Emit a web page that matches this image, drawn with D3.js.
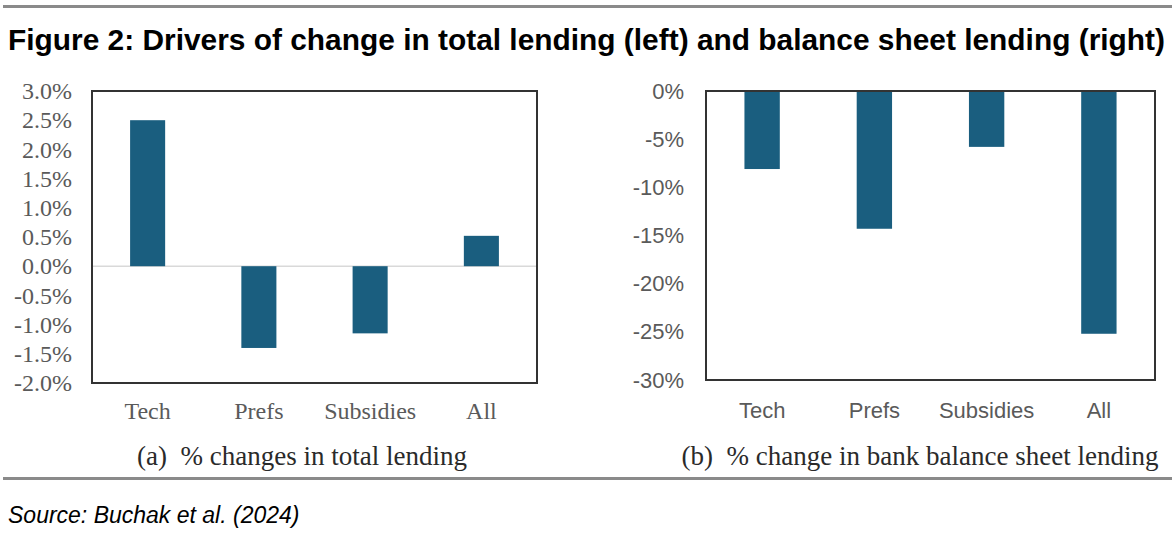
<!DOCTYPE html>
<html><head><meta charset="utf-8">
<script src="https://cdn.jsdelivr.net/npm/d3@7"></script>
<style>body{margin:0;background:#fff}svg{display:block}</style>
</head><body>
<script>
const categories = ["Tech", "Prefs", "Subsidies", "All"];
const totalLending = [2.5, -1.4, -1.15, 0.52];            // % (left)
const balanceSheetLending = [-8.1, -14.3, -5.8, -25.2];   // % (right)
const leftTicks = [3.0, 2.5, 2.0, 1.5, 1.0, 0.5, 0.0, -0.5, -1.0, -1.5, -2.0];
const rightTicks = [0, -5, -10, -15, -20, -25, -30];
const title = "Figure 2: Drivers of change in total lending (left) and balance sheet lending (right)";
const subA = "(a)  % changes in total lending";
const subB = "(b)  % change in bank balance sheet lending";
const source = "Source: Buchak et al. (2024)";

const W = 1172, H = 533;
const svg = d3.select("body").append("svg").attr("width", W).attr("height", H);
const barColor = "#1a5e7f";

// rules
svg.append("rect").attr("x", 3).attr("y", 5).attr("width", W - 3).attr("height", 3).attr("fill", "#8a8a8a");
svg.append("rect").attr("x", 3).attr("y", 477).attr("width", W - 3).attr("height", 3).attr("fill", "#8a8a8a");

svg.append("text").attr("x", 8).attr("y", 50).text(title)
  .attr("font-family", "Liberation Sans, Arial, sans-serif").attr("font-weight", "bold")
  .attr("font-size", 29.5).attr("fill", "#000")
  .attr("textLength", 1157).attr("lengthAdjust", "spacingAndGlyphs");

svg.append("text").attr("x", 8).attr("y", 523).text(source)
  .attr("font-family", "Liberation Sans, Arial, sans-serif").attr("font-style", "italic")
  .attr("font-size", 23).attr("fill", "#000");

function panel(opts) {
  const {x0, x1, y0, y1, domain, ticks, values, fmt, tickFont, tickSize, catFont, catSize, sub, subX, zeroLine} = opts;
  const g = svg.append("g");
  const x = d3.scaleBand().domain(categories).range([x0, x1]).paddingInner(0.685).paddingOuter(0.3425);
  const y = d3.scaleLinear().domain(domain).range([y1, y0]);

  const yAxis = d3.axisLeft(y).tickValues(ticks).tickFormat(fmt).tickSize(0).tickPadding(0);
  const ya = g.append("g").attr("transform", `translate(${x0 - opts.tickGap},0)`).call(yAxis);
  ya.select(".domain").remove();
  ya.selectAll("text").attr("font-family", tickFont).attr("font-size", tickSize).attr("fill", "#5a5a5a");

  if (zeroLine) {
    g.append("line").attr("x1", x0).attr("x2", x1).attr("y1", y(0)).attr("y2", y(0))
      .attr("stroke", "#d9d9d9").attr("stroke-width", 1.5);
  }

  g.selectAll("rect.bar").data(values).join("rect").attr("class", "bar")
    .attr("x", (d, i) => x(categories[i]))
    .attr("width", x.bandwidth())
    .attr("y", d => y(Math.max(0, d)))
    .attr("height", d => Math.abs(y(d) - y(0)))
    .attr("fill", barColor);

  g.append("rect").attr("x", x0).attr("y", y0).attr("width", x1 - x0).attr("height", y1 - y0)
    .attr("fill", "none").attr("stroke", "#333").attr("stroke-width", 2);

  const xAxis = d3.axisBottom(x).tickSize(0).tickPadding(0);
  const xa = g.append("g").attr("transform", `translate(0,${opts.catY})`).call(xAxis);
  xa.select(".domain").remove();
  xa.selectAll("text").attr("dy", 0).attr("font-family", catFont).attr("font-size", catSize).attr("fill", "#5a5a5a");

  g.append("text").attr("x", subX).attr("y", 465).attr("text-anchor", "middle").text(sub)
    .style("white-space", "pre")
    .attr("font-family", "Liberation Serif, Times New Roman, serif").attr("font-size", 27).attr("fill", "#2a2a2a");
}

panel({x0: 92, x1: 537, y0: 91, y1: 383, domain: [-2, 3], ticks: leftTicks,
  values: totalLending, fmt: d => d.toFixed(1) + "%",
  tickFont: "Liberation Serif, Times New Roman, serif", tickSize: 24, tickGap: 20,
  catFont: "Liberation Serif, Times New Roman, serif", catSize: 24, catY: 419,
  sub: subA, subX: 302, zeroLine: true});

panel({x0: 706, x1: 1155, y0: 91, y1: 380, domain: [-30, 0], ticks: rightTicks,
  values: balanceSheetLending, fmt: d => d + "%",
  tickFont: "Liberation Sans, Arial, sans-serif", tickSize: 22, tickGap: 22,
  catFont: "Liberation Sans, Arial, sans-serif", catSize: 22, catY: 418,
  sub: subB, subX: 920, zeroLine: false});
</script>
</body></html>
